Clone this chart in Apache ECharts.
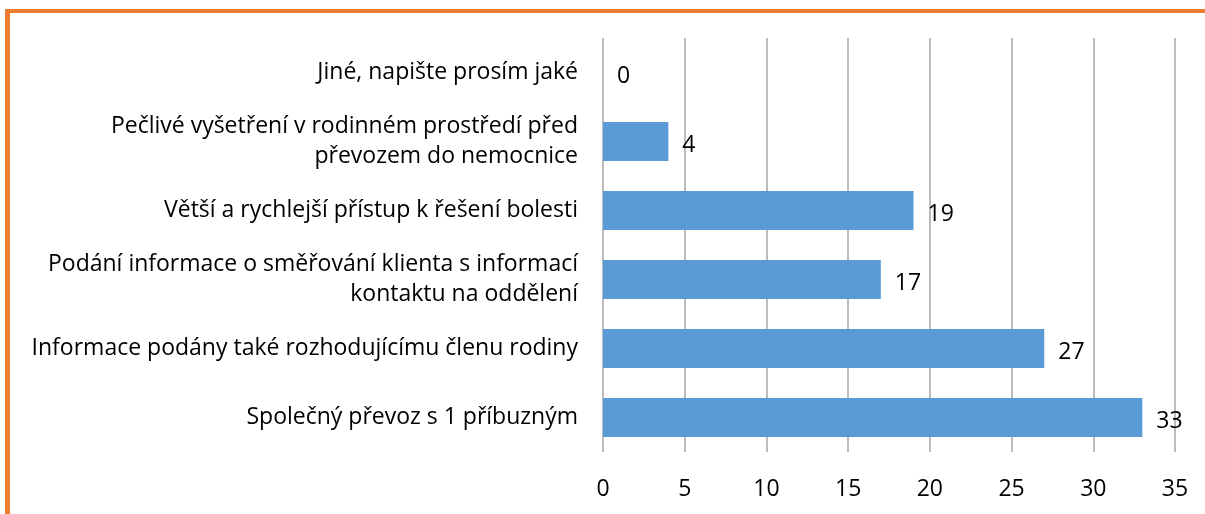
<!DOCTYPE html>
<html lang="cs">
<head>
<meta charset="UTF-8">
<title>Graf</title>
<script src="https://cdn.jsdelivr.net/npm/echarts@6/dist/echarts.min.js"></script>
<style>
html, body { margin: 0; padding: 0; background: #fff; }
#frame {
position: absolute; left: 5px; top: 9px; width: 1200px; height: 505px;
border-left: 5px solid #ED7D31; border-top: 4px solid #ED7D31;
box-sizing: border-box;
}
#chart { position: absolute; left: 0; top: 0; width: 1205px; height: 514px; }
</style>
</head>
<body>
<div id="frame"></div>
<div id="chart"></div>
<script>
// categories listed bottom to top
const categories = [
'Společný převoz s 1 příbuzným',
'Informace podány také rozhodujícímu členu rodiny',
'Podání informace o směřování klienta s informací\nkontaktu na oddělení',
'Větší a rychlejší přístup k řešení bolesti',
'Pečlivé vyšetření v rodinném prostředí před\npřevozem do nemocnice',
'Jiné, napište prosím jaké'
];
const values = [33, 27, 17, 19, 4, 0];
const xTicks = [0, 5, 10, 15, 20, 25, 30, 35];

const chart = echarts.init(document.getElementById('chart'));
chart.setOption({
animation: false,
textStyle: { fontFamily: 'Open Sans' },
grid: { left: 603, right: 30, top: 38, bottom: 62, containLabel: false },
xAxis: {
type: 'value',
min: xTicks[0],
max: xTicks[xTicks.length - 1],
interval: 5,
axisLine: { show: false },
axisTick: { show: false },
axisLabel: { color: '#000', fontSize: 23, margin: 26 },
splitLine: { lineStyle: { color: '#a6a6a6', width: 1.5 } }
},
yAxis: {
type: 'category',
data: categories,
axisLine: { show: false },
axisTick: { show: false },
axisLabel: { color: '#000', fontSize: 23, margin: 25, lineHeight: 30, align: 'right', padding: [7, 0, 0, 0] }
},
series: [{
type: 'bar',
data: values,
barWidth: 39,
itemStyle: { color: '#5B9BD5' },
label: { show: true, position: 'right', distance: 14, offset: [0, 4], color: '#000', fontSize: 23 }
}]
});
</script>
</body>
</html>
